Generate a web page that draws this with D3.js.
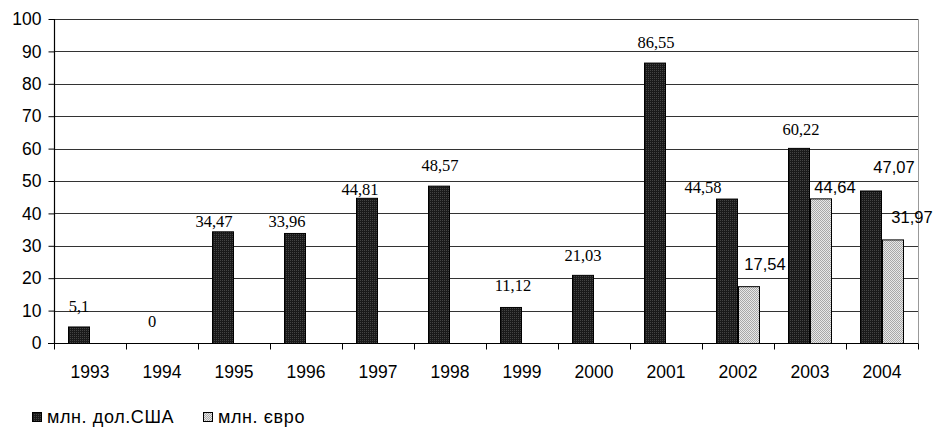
<!DOCTYPE html>
<html>
<head>
<meta charset="utf-8">
<script src="https://cdn.jsdelivr.net/npm/d3@7"></script>
<style>
  html, body { margin: 0; padding: 0; background: #fff; }
  svg { display: block; }
</style>
</head>
<body>
<svg id="chart" width="938" height="429"></svg>
<script>
// Annual amounts by year
const years = ["1993","1994","1995","1996","1997","1998","1999","2000","2001","2002","2003","2004"];
const usd   = [5.1, 0, 34.47, 33.96, 44.81, 48.57, 11.12, 21.03, 86.55, 44.58, 60.22, 47.07];
const eur   = [null, null, null, null, null, null, null, null, null, 17.54, 44.64, 31.97];
const seriesNames = ["млн. дол.США", "млн. євро"];
const yTicks = [0, 10, 20, 30, 40, 50, 60, 70, 80, 90, 100];

// Hand-placed value labels: offset from bar top centre, and font family
const usdLabelPos = [
  [0, -14.5, "serif"], [1, -16, "serif"], [-9, -4, "serif"], [-8, -6, "serif"],
  [-7, -3, "serif"], [1, -14.6, "serif"], [2, -16, "serif"], [0, -14, "serif"],
  [1, -14.6, "serif"], [-24, -5.6, "serif"], [2, -13, "serif"], [23, -17.5, "sans"]
];
const eurLabelPos = [
  null, null, null, null, null, null, null, null, null,
  [16, -16, "sans"], [14, -5, "sans"], [19, -16, "sans"]
];

const svg = d3.select("#chart");
const plotLeft = 54, plotRight = 918, plotTop = 19, plotBottom = 343;
const serif = "'Liberation Serif', 'Times New Roman', serif";
const sans = "'Liberation Sans', Arial, sans-serif";

// Fill patterns for the two series
const defs = svg.append("defs");
const pd = defs.append("pattern").attr("id", "darkFill")
  .attr("patternUnits", "userSpaceOnUse").attr("width", 2).attr("height", 2);
pd.append("rect").attr("width", 2).attr("height", 2).attr("fill", "#1a1a1a");
pd.append("rect").attr("width", 1).attr("height", 1).attr("fill", "#444");
const pl = defs.append("pattern").attr("id", "lightFill")
  .attr("patternUnits", "userSpaceOnUse").attr("width", 2).attr("height", 2);
pl.append("rect").attr("width", 2).attr("height", 2).attr("fill", "#e8e8e8");
pl.append("rect").attr("width", 1).attr("height", 1).attr("fill", "#a8a8a8");
pl.append("rect").attr("x", 1).attr("y", 1).attr("width", 1).attr("height", 1).attr("fill", "#a8a8a8");

const x = d3.scaleBand().domain(years).range([plotLeft, plotRight]).padding(0);
const xs = d3.scaleBand().domain(["usd", "eur"]).range([14, x.bandwidth() - 14]).padding(0);
const y = d3.scaleLinear().domain([0, 100]).range([plotBottom, plotTop]);

// Gridlines
svg.append("g").selectAll("line").data(yTicks.filter(d => d > 0)).join("line")
  .attr("x1", plotLeft).attr("x2", plotRight)
  .attr("y1", d => Math.round(y(d)) + 0.5).attr("y2", d => Math.round(y(d)) + 0.5)
  .attr("stroke", "#333").attr("stroke-width", 1);

// Right border of plot area
svg.append("line")
  .attr("x1", plotRight + 0.5).attr("x2", plotRight + 0.5)
  .attr("y1", Math.round(y(100))).attr("y2", plotBottom + 4)
  .attr("stroke", "#999").attr("stroke-width", 1);

// Bars
const usdData = years.map((yr, i) => ({ yr, v: usd[i], pos: usdLabelPos[i] }));
const eurData = years.map((yr, i) => ({ yr, v: eur[i], pos: eurLabelPos[i] })).filter(d => d.v !== null);

svg.append("g").selectAll("rect").data(usdData.filter(d => d.v > 0)).join("rect")
  .attr("x", d => x(d.yr) + xs("usd") + 0.5)
  .attr("y", d => y(d.v) + 0.5)
  .attr("width", xs.bandwidth() - 1)
  .attr("height", d => y(0) - y(d.v))
  .attr("fill", "url(#darkFill)").attr("stroke", "#000").attr("stroke-width", 1);

svg.append("g").selectAll("rect").data(eurData).join("rect")
  .attr("x", d => x(d.yr) + xs("eur") + 0.5)
  .attr("y", d => y(d.v) + 0.5)
  .attr("width", xs.bandwidth() - 1)
  .attr("height", d => y(0) - y(d.v))
  .attr("fill", "url(#lightFill)").attr("stroke", "#000").attr("stroke-width", 1);

// Axes
const yAxis = svg.append("g").attr("transform", `translate(${plotLeft + 0.5},0)`)
  .call(d3.axisLeft(y).tickValues(yTicks).tickSize(6).tickPadding(7).tickFormat(d3.format("d")));
yAxis.select(".domain").attr("d", `M0,${plotTop}V${plotBottom}`).attr("stroke", "#000").attr("stroke-width", 1.2);
yAxis.selectAll(".tick line").attr("stroke", "#000");
yAxis.selectAll(".tick text").attr("font-family", sans).attr("font-size", 17.5).attr("fill", "#000");

const xAxis = svg.append("g").attr("transform", `translate(0,${plotBottom + 0.5})`);
xAxis.append("line").attr("x1", plotLeft - 6).attr("x2", plotRight).attr("stroke", "#000").attr("stroke-width", 1.2);
xAxis.selectAll(".tk").data(years.concat(["end"])).join("line").attr("class", "tk")
  .attr("x1", (d, i) => plotLeft + i * x.bandwidth() + 0.5).attr("x2", (d, i) => plotLeft + i * x.bandwidth() + 0.5)
  .attr("y1", 0).attr("y2", 6).attr("stroke", "#000");
xAxis.selectAll("text").data(years).join("text")
  .attr("x", d => x(d) + x.bandwidth() / 2).attr("y", 34)
  .attr("text-anchor", "middle").attr("font-family", sans).attr("font-size", 17.5).attr("fill", "#000")
  .text(d => d);

// Value labels
const fmt = v => String(v).replace(".", ",");
function drawLabels(data, key) {
  svg.append("g").selectAll("text").data(data).join("text")
    .attr("x", d => x(d.yr) + xs(key) + xs.bandwidth() / 2 + d.pos[0])
    .attr("y", d => y(d.v) + d.pos[1])
    .attr("text-anchor", "middle")
    .attr("font-family", d => d.pos[2] === "serif" ? serif : sans)
    .attr("font-size", 16.5)
    .attr("fill", "#000")
    .text(d => fmt(d.v));
}
drawLabels(usdData, "usd");
drawLabels(eurData, "eur");

// Legend
const legend = svg.append("g").attr("transform", "translate(32,412)");
const items = [
  { name: seriesNames[0], fill: "url(#darkFill)", x: 0 },
  { name: seriesNames[1], fill: "url(#lightFill)", x: 171 }
];
const li = legend.selectAll("g").data(items).join("g").attr("transform", d => `translate(${d.x},0)`);
li.append("rect").attr("x", 0.5).attr("y", 0.5).attr("width", 9).attr("height", 9)
  .attr("fill", d => d.fill).attr("stroke", "#000").attr("stroke-width", 1);
li.append("text").attr("x", 15).attr("y", 10.5).attr("font-family", sans).attr("font-size", 18)
  .attr("letter-spacing", 0.6).attr("fill", "#000").text(d => d.name);
</script>
</body>
</html>
